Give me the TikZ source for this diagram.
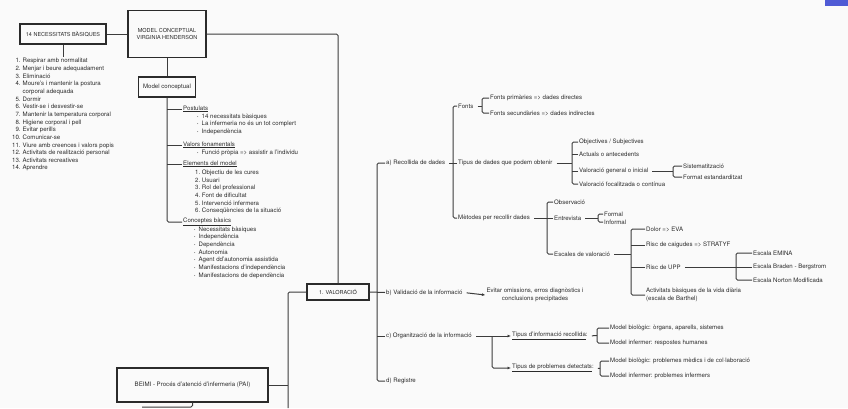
\documentclass[tikz,border=0pt]{standalone}
\usepackage{fontspec}
\setmainfont{TeX Gyre Heros}
\usetikzlibrary{arrows.meta}
\definecolor{inkc}{HTML}{2B2B2B}
\definecolor{wirec}{HTML}{3C3C3C}
\definecolor{paperc}{HTML}{FAFAFA}
\definecolor{badgec}{HTML}{4F5BD5}
\newcommand{\dotitem}{\makebox[4.5pt][l]{\fontsize{4}{4}\selectfont\textbullet}}
\tikzset{
  box/.style={draw=inkc, line width=1.3pt, text=inkc, align=center, inner sep=1pt,
    font=\fontsize{5.5}{7.6}\selectfont},
  txt/.style={anchor=west, inner sep=1pt, text=inkc, font=\fontsize{6.1}{7.65}\selectfont},
  link/.style={draw=wirec, line width=1pt, rounded corners=1.5pt},
  par/.style={link, shorten <=3pt},
  arr/.style={link, -{Latex[length=3.5pt,width=3pt]}},
}
\begin{document}
\begin{tikzpicture}[x=1pt,y=-1pt]
  \useasboundingbox (0,0) rectangle (848,408);
  \fill[paperc] (0,0) rectangle (848,408);
  \fill[badgec] (825,0) rectangle (848,6);

  % model conceptual
  \node[box, minimum width=86pt, minimum height=20pt] (nec) at (63,34) {14 NECESSITATS BÀSIQUES};
  \node[box, minimum width=78pt, minimum height=47pt] (mcv) at (167,34) {MODEL CONCEPTUAL\\VIRGINIA HENDERSON};
  \node[box, minimum width=57pt, minimum height=20pt, font=\fontsize{6.1}{7.6}\selectfont] (mcp) at (167,87) {Model conceptual};

  \node[txt, anchor=north west, inner sep=0pt] (neclist) at (12,57.3) {%
    \begin{tabular}{@{}r@{\hspace{2pt}}l@{}}
      1.&Respirar amb normalitat\\
      2.&Menjar i beure adequadament\\
      3.&Eliminació\\
      4.&Moure's i mantenir la postura\\
        &corporal adequada\\
      5.&Dormir\\
      6.&Vestir-se i desvestir-se\\
      7.&Mantenir la temperatura corporal\\
      8.&Higiene corporal i pell\\
      9.&Evitar perills\\
      10.&Comunicar-se\\
      11.&Viure amb creences i valors popis\\
      12.&Activitats de realització personal\\
      13.&Activitats recreatives\\
      14.&Aprendre
    \end{tabular}};

  \node[txt] (post) at (182,109) {\underline{Postulats}};
  \foreach \t [count=\i] in {14 necessitats bàsiques, La infermeria no és un tot complert, Independència}
    \node[txt] (post\i) at (196,{109+7.6*\i}) {\dotitem\t};
  \node[txt] (valf) at (182,145) {\underline{Valors fonamentals}};
  \node[txt] (valf1) at (196,152.5) {\dotitem Funció pròpia => assistir a l'individu};
  \node[txt] (elem) at (182,164) {\underline{Elements del model}};
  \foreach \t [count=\i] in {Objectiu de les cures, Usuari, Rol del professional, Font de dificultat,
      Intervenció infermera, Conseqüències de la situació}
    \node[txt] (elem\i) at (194,{165.4+7.6*\i}) {\i.\ \t};
  \node[txt] (conc) at (182,222) {\underline{Conceptes bàsics}};
  \foreach \t [count=\i] in {Necessitats bàsiques, Independència, Dependència, Autonomia,
      Agent dd'autonomia assistida, Manifestacions d'independència, Manifestacions de dependència}
    \node[txt] (conc\i) at (193,{222+7.67*\i}) {\dotitem\t};

  \draw[link] (nec.east) -- (mcv.west);
  \draw[link] (nec.south) -- (nec.south |- neclist.north);
  \draw[link] (mcv.south) -- (mcp.north);
  \draw[link] (mcp.south) |- (conc.west);
  \foreach \n in {post,valf,elem}
    \draw[link] (mcp.south |- \n.west) -- (\n.west);

  % PAI
  \node[box, minimum width=62pt, minimum height=16pt] (val) at (338,292) {1. VALORACIÓ};
  \node[box, minimum width=151pt, minimum height=34pt, font=\fontsize{6.1}{7.6}\selectfont] (beimi) at (192.5,385) {BEIMI - Procés d'atenció d'infermeria (PAI)};
  \coordinate (trunkend) at (288,408);
  \coordinate (nextstep) at (142,407);
  \draw[link] (mcv.east) -| (val.north);
  \draw[link] (val.west) -| (trunkend);
  \draw[link] (beimi.east) -- (beimi.east -| trunkend);
  \draw[link] (beimi.south) |- (nextstep);

  % valoracio
  \node[txt] (reco) at (385,163) {a) Recollida de dades};
  \node[txt] (vali) at (385,292.5) {b) Validació de la informació};
  \node[txt] (orga) at (385,336) {c) Organització de la informació};
  \node[txt] (regi) at (385,381) {d) Registre};
  \node[txt, anchor=center, align=center] (evit) at (535,295) {Evitar omissions, erros diagnòstics i\\conclusions precipitades};

  \node[txt] (fonts) at (457,106) {Fonts};
  \node[txt] (fprim) at (489,98) {Fonts primàries => dades directes};
  \node[txt] (fsec) at (489,113) {Fonts secundàries => dades indirectes};
  \node[txt] (tipus) at (457,163) {Tipus de dades que podem obtenir};
  \node[txt] (obj) at (578,142) {Objectives / Subjectives};
  \node[txt] (actu) at (578,154) {Actuals o antecedents};
  \node[txt] (vgen) at (578,171) {Valoració general o inicial};
  \node[txt] (vfoc) at (578,184) {Valoració focalitzada o contínua};
  \node[txt] (sist) at (682,166) {Sistematització};
  \node[txt] (form) at (682,177) {Format estandarditzat};
  \node[txt] (meto) at (457,218) {Mètodes per recollir dades};
  \node[txt] (obse) at (553,202) {Observació};
  \node[txt] (entr) at (553,218) {Entrevista};
  \node[txt] (fml) at (603,214) {Formal};
  \node[txt] (infm) at (603,222) {Informal};
  \node[txt] (esca) at (553,254) {Escales de valoració};
  \node[txt] (dolor) at (645,229) {Dolor => EVA};
  \node[txt] (caig) at (645,245) {Risc de caigudes => STRATYF};
  \node[txt] (upp) at (645,267) {Risc de UPP};
  \node[txt, align=left] (abvd) at (645,295) {Activitats bàsiques de la vida diària\\(escala de Barthel)};
  \node[txt] (emina) at (752,253) {Escala EMINA};
  \node[txt] (brad) at (752,267) {Escala Braden - Bergstrom};
  \node[txt] (nort) at (752,280) {Escala Norton Modificada};

  \node[txt] (tinf) at (511,336) {\underline{Tipus d'informació recollida}:};
  \node[txt] (tprob) at (511,368) {\underline{Tipus de problemes detectats}:};
  \node[txt] (mb1) at (609,328) {Model biològic: òrgans, aparells, sistemes};
  \node[txt] (mi1) at (609,343) {Model infermer: respostes humanes};
  \node[txt] (mb2) at (609,361) {Model biològic: problemes mèdics i de col·laboració};
  \node[txt] (mi2) at (609,376) {Model infermer: problemes infermers};

  \coordinate (jv) at (377,292);
  \coordinate (ja) at (453,163);
  \coordinate (jf) at (482,106);
  \coordinate (jt) at (572,163);
  \coordinate (jg) at (673,171.5);
  \coordinate (jm) at (547,218);
  \coordinate (je) at (598,218);
  \coordinate (js) at (631,254);
  \coordinate (ju) at (736,267);
  \coordinate (jo) at (492,336);
  \coordinate (ji) at (597,335.5);
  \coordinate (jp) at (600,368.5);

  \draw[link] (reco.west) -| (jv) |- (regi.west);
  \draw[link] (val.east) -- (vali.west);
  \draw[link] (orga.west) -- (orga.west -| jv);
  \draw[par] (reco.east) -- (tipus.west);
  \draw[link] (fonts.west) -| (ja) |- (meto.west);
  \draw[par] (fonts.east) -- (jf);
  \draw[link] (fprim.west) -| (jf) |- (fsec.west);
  \draw[par] (tipus.east) -- (jt);
  \draw[link] (obj.west) -| (jt) |- (vfoc.west);
  \draw[link] (actu.west) -- (actu.west -| jt);
  \draw[link] (vgen.west) -- (vgen.west -| jt);
  \draw[par] (vgen.east) -- (vgen.east -| jg);
  \draw[link] (sist.west) -| (jg) |- (form.west);
  \draw[par] (meto.east) -- (jm);
  \draw[link] (obse.west) -| (jm) |- (esca.west);
  \draw[link] (entr.west) -- (jm);
  \draw[par] (entr.east) -- (je);
  \draw[link] (fml.west) -| (je) |- (infm.west);
  \draw[par] (esca.east) -- (js);
  \draw[link] (dolor.west) -| (js) |- (abvd.west);
  \draw[link] (caig.west) -- (caig.west -| js);
  \draw[link] (upp.west) -- (upp.west -| js);
  \draw[par] (upp.east) -- (ju);
  \draw[link] (emina.west) -| (ju) |- (nort.west);
  \draw[link] (brad.west) -- (ju);
  \draw[arr, shorten <=3pt] (vali.east) -- (evit.west);
  \draw[arr, shorten <=3pt] (orga.east) -- (tinf.west);
  \draw[arr] (jo) |- (tprob.west);
  \draw[par] (tinf.east) -- (ji);
  \draw[link] (mb1.west) -| (ji) |- (mi1.west);
  \draw[par] (tprob.east) -- (jp);
  \draw[link] (mb2.west) -| (jp) |- (mi2.west);
\end{tikzpicture}
\end{document}
